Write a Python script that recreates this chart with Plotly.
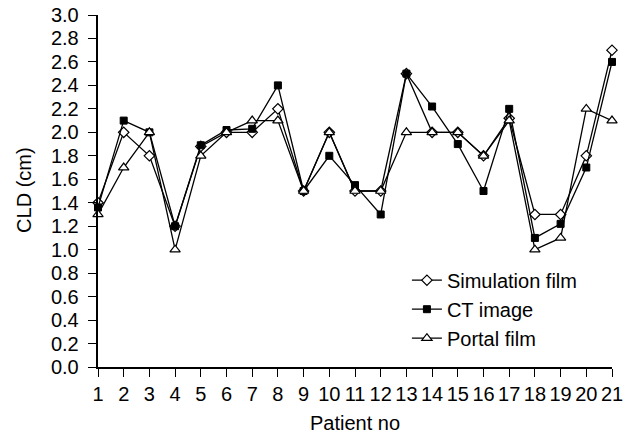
import plotly.graph_objects as go

patients = list(range(1, 22))
simulation_film = [1.4, 2.0, 1.8, 1.2, 1.88, 2.0, 2.0, 2.2, 1.5, 2.0, 1.5, 1.5, 2.5, 2.0, 2.0, 1.8, 2.12, 1.3, 1.3, 1.8, 2.7]
ct_image = [1.36, 2.1, 2.0, 1.2, 1.89, 2.02, 2.03, 2.4, 1.5, 1.8, 1.55, 1.3, 2.5, 2.22, 1.9, 1.5, 2.2, 1.1, 1.22, 1.7, 2.6]
portal_film = [1.3, 1.7, 2.0, 1.0, 1.8, 2.0, 2.1, 2.1, 1.5, 2.0, 1.5, 1.5, 2.0, 2.0, 2.0, 1.8, 2.1, 1.0, 1.1, 2.2, 2.1]
y_ticks = [round(i * 0.2, 1) for i in range(16)]

FONT = "Liberation Sans, Arial, sans-serif"
FS = 20

fig = go.Figure()
fig.add_trace(go.Scatter(
    x=patients, y=simulation_film, name="Simulation film", mode="lines+markers",
    line=dict(color="black", width=1.3),
    marker=dict(symbol="diamond", size=8, color="white", line=dict(color="black", width=1.2)),
    cliponaxis=False,
))
fig.add_trace(go.Scatter(
    x=patients, y=ct_image, name="CT image", mode="lines+markers",
    line=dict(color="black", width=1.3),
    marker=dict(symbol="square", size=7, color="black", line=dict(color="black", width=1)),
    cliponaxis=False,
))
fig.add_trace(go.Scatter(
    x=patients, y=portal_film, name="Portal film", mode="lines+markers",
    line=dict(color="black", width=1.3),
    marker=dict(symbol="triangle-up", size=9, color="white", line=dict(color="black", width=1.2)),
    cliponaxis=False,
))

fig.update_layout(
    width=631, height=434,
    margin=dict(l=98, r=19, t=15, b=67),
    paper_bgcolor="white", plot_bgcolor="white",
    font=dict(family=FONT, size=FS, color="black"),
    showlegend=True,
    legend=dict(x=0.601, y=0.302, xanchor="left", yanchor="top",
                bgcolor="rgba(0,0,0,0)", font=dict(size=FS, family=FONT),
                tracegroupgap=0, itemsizing="trace"),
    xaxis=dict(
        range=[1, 21], tickmode="array", tickvals=patients,
        ticktext=[str(p) for p in patients],
        showgrid=False, zeroline=False, showline=True, linecolor="black", linewidth=1.5,
        ticks="outside", ticklen=8, tickwidth=1.3, tickcolor="black",
        automargin=False,
        title=dict(text="Patient no", font=dict(size=FS)),
        tickfont=dict(size=FS),
    ),
    yaxis=dict(
        range=[0, 3.0], tickmode="array", tickvals=y_ticks,
        ticktext=[f"{v:.1f}\u00a0" for v in y_ticks],
        showgrid=False, zeroline=False, showline=True, linecolor="black", linewidth=1.5,
        ticks="outside", ticklen=8, tickwidth=1.3, tickcolor="black",
        automargin=False,
        tickfont=dict(size=FS),
    ),
    annotations=[dict(
        text="CLD (cm)", textangle=-90, showarrow=False,
        xref="paper", yref="paper", x=-0.144, y=0.503,
        xanchor="center", yanchor="middle", font=dict(size=FS, family=FONT),
    )],
)

fig.write_html("out.html", config={"displayModeBar": False},
               post_script="document.body.style.margin='0';")
